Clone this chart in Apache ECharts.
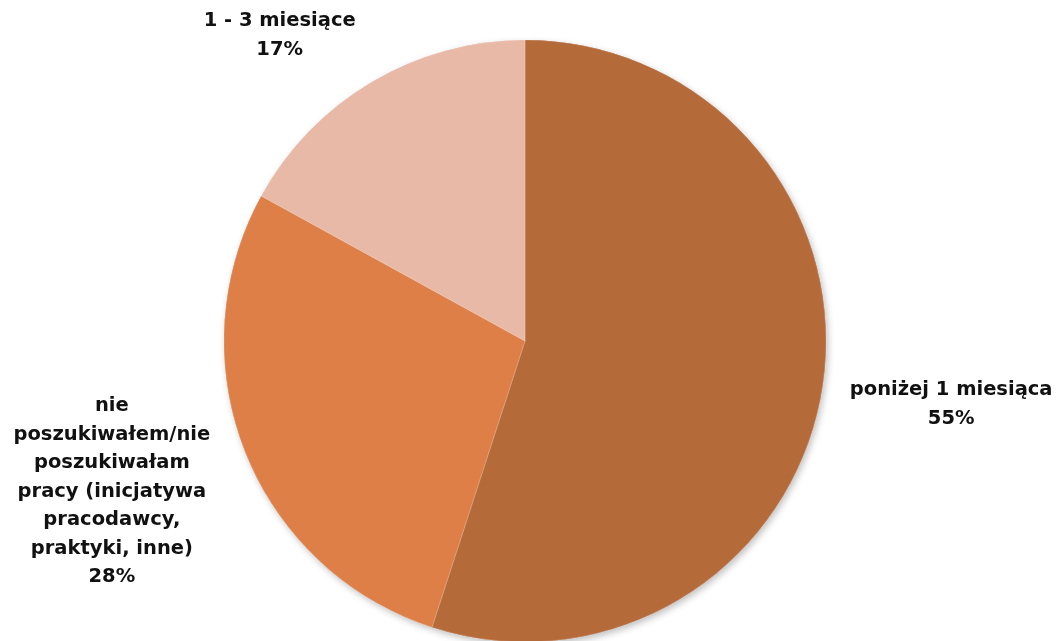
<!DOCTYPE html>
<html><head><meta charset="utf-8">
<script src="https://cdn.jsdelivr.net/npm/echarts@6/dist/echarts.min.js"></script>
<style>html,body{margin:0;padding:0;background:#fff}#c{width:1061px;height:641px}</style>
</head><body><div id="c"></div>
<script>
const categories = ['poniżej 1 miesiąca', 'nie\nposzukiwałem/nie\nposzukiwałam\npracy (inicjatywa\npracodawcy,\npraktyki, inne)', '1 - 3 miesiące'];
const values = [55, 28, 17];
const colors = ['#B56A3A', '#DD7F47', '#E8B9A6'];

const pieData = categories.map((n, i) => ({name: n, value: values[i], itemStyle: {color: colors[i]}}));
const chart = echarts.init(document.getElementById('c'), null, {renderer: 'canvas'});
chart.setOption({
  animation: false,
  series: [{
    type: 'pie',
    z: 1,
    silent: true,
    center: [525, 341],
    radius: 301,
    startAngle: 90,
    clockwise: true,
    data: pieData,
    itemStyle: {shadowBlur: 7, shadowColor: 'rgba(0,0,0,0.25)', shadowOffsetX: 2, shadowOffsetY: 3},
    label: {show: false},
    labelLine: {show: false}
  }, {
    type: 'pie',
    z: 2,
    center: [525, 341],
    radius: 301,
    startAngle: 90,
    clockwise: true,
    data: pieData,
    itemStyle: {borderWidth: 0.6, borderColor: 'rgba(255,255,255,0.35)'},
    label: {
      show: true,
      position: 'outside',
      formatter: p => p.name + '\n' + p.value + '%',
      fontFamily: 'DejaVu Sans',
      fontWeight: 'bold',
      fontSize: 19.5,
      lineHeight: 28.5,
      color: '#111',
      align: 'center'
    },
    labelLine: {show: false, length: 10, length2: 10},
    labelLayout: function (p) {
      const offs = [[104, 15], [-109, 36], [-72, -38]];
      const o = offs[p.dataIndex];
      return {dx: o[0], dy: o[1], align: 'center'};
    },
    emphasis: {disabled: true}
  }]
});
</script></body></html>
